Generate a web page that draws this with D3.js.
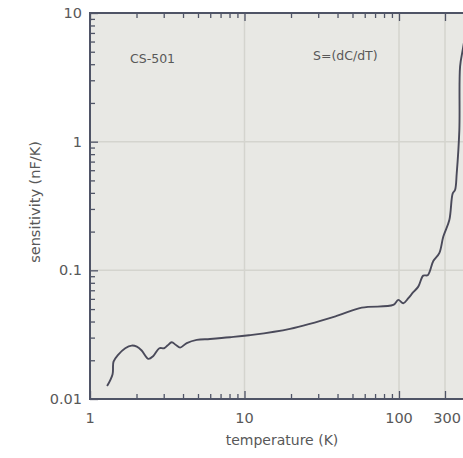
<!DOCTYPE html>
<html>
<head>
<meta charset="utf-8">
<script src="https://cdn.jsdelivr.net/npm/d3@7"></script>
<style>
    body { margin: 0; background: #fff; }
    text { font-family: "DejaVu Sans", sans-serif; fill: #585858; }
</style>
</head>
<body>
<svg width="463" height="458"></svg>
<script>
// curve: temperature (K) and sensitivity (nF/K)
var temperature = [1.29, 1.40, 1.42, 1.52, 1.69, 1.86, 2.01, 2.16, 2.39, 2.57, 2.81, 3.01, 3.17, 3.38,
    3.60, 3.83, 4.23, 4.91, 5.98, 8.06, 10.7, 19.7, 39.5, 57.4, 91.8, 98.9, 110.8, 124.9, 140.6,
    158.5, 178.5, 198.5, 226.9, 261.8, 288.2, 332.7, 360.9, 381.3, 397, 422.5, 430, 458, 496];
var sensitivity = [0.0126, 0.0156, 0.0195, 0.0220, 0.0248, 0.0260, 0.0255, 0.0238, 0.0205, 0.0216,
    0.0248, 0.0248, 0.0260, 0.0276, 0.0263, 0.0251, 0.0272, 0.0288, 0.0293, 0.0302, 0.0313, 0.0351,
    0.0442, 0.0513, 0.0538, 0.0589, 0.0555, 0.0607, 0.0676, 0.0747, 0.0910, 0.0916, 0.118, 0.136,
    0.183, 0.246, 0.397, 0.421, 0.568, 1.23, 3.83, 5.16, 7.4];

var tempTicks = [1, 10, 100, 300];
var tempTickLabels = ['1', '10', '100', '300'];
var sensTicks = [0.01, 0.1, 1, 10];
var sensTickLabels = ['0.01', '0.1', '1', '10'];

var svg = d3.select('svg');

var plot = { l: 90, t: 13, r: 475, b: 399 };

// the axis is squeezed between 100 and 300, so the log scale is piecewise
var x = d3.scaleLog()
    .domain([1, 10, 100, 300])
    .range([plot.l, 244.5, 399, 445]);
var y = d3.scaleLog()
    .domain([0.01, 10])
    .range([plot.b, plot.t]);

// minor tick positions (every integer step of each decade)
var xMinor = [];
[1, 10].forEach(function (d) {
    for (var k = 2; k <= 9; k++) xMinor.push(d * k);
});
var yMinor = [];
[0.01, 0.1, 1].forEach(function (d) {
    for (var k = 2; k <= 9; k++) yMinor.push(d * k);
});

svg.append('defs').append('clipPath').attr('id', 'clip')
    .append('rect')
    .attr('x', plot.l).attr('y', plot.t)
    .attr('width', plot.r - plot.l).attr('height', plot.b - plot.t);

// plot background
svg.append('rect')
    .attr('x', plot.l).attr('y', plot.t)
    .attr('width', plot.r - plot.l).attr('height', plot.b - plot.t)
    .attr('fill', '#e8e8e4');

// grid lines
svg.append('g').selectAll('line')
    .data([10, 100, 300])
    .enter().append('line')
    .attr('x1', d => x(d)).attr('x2', d => x(d))
    .attr('y1', plot.t).attr('y2', plot.b)
    .attr('stroke', '#d4d4ce').attr('stroke-width', 1.5);
svg.append('g').selectAll('line')
    .data([0.1, 1])
    .enter().append('line')
    .attr('x1', plot.l).attr('x2', plot.r)
    .attr('y1', d => y(d)).attr('y2', d => y(d))
    .attr('stroke', '#d4d4ce').attr('stroke-width', 1.5);

var axisColor = '#4f5466';

function styleAxis(g) {
    g.select('.domain').remove();
    g.selectAll('line').attr('stroke', axisColor).attr('stroke-width', 1.3);
    g.selectAll('text').remove();
}

// minor ticks, pointing inwards
svg.append('g').attr('transform', `translate(0,${plot.b})`)
    .call(d3.axisBottom(x).tickValues(xMinor).tickSize(-5)).call(styleAxis);
svg.append('g').attr('transform', `translate(0,${plot.t})`)
    .call(d3.axisTop(x).tickValues(xMinor).tickSize(-5)).call(styleAxis);
svg.append('g').attr('transform', `translate(${plot.l},0)`)
    .call(d3.axisLeft(y).tickValues(yMinor).tickSize(-5)).call(styleAxis);

// major ticks
svg.append('g').attr('transform', `translate(0,${plot.b})`)
    .call(d3.axisBottom(x).tickValues(tempTicks).tickSize(-8)).call(styleAxis);
svg.append('g').attr('transform', `translate(0,${plot.t})`)
    .call(d3.axisTop(x).tickValues(tempTicks).tickSize(-8)).call(styleAxis);
svg.append('g').attr('transform', `translate(${plot.l},0)`)
    .call(d3.axisLeft(y).tickValues(sensTicks).tickSize(-8)).call(styleAxis);

// frame lines
svg.append('path')
    .attr('d', `M${plot.r},${plot.t}H${plot.l}V${plot.b}H${plot.r}`)
    .attr('fill', 'none').attr('stroke', axisColor).attr('stroke-width', 2);

// tick labels (the last one nudged right but kept inside the page)
svg.append('g').selectAll('text')
    .data(tempTicks)
    .enter().append('text')
    .attr('x', d => d === 300 ? 461 : x(d))
    .attr('y', 423)
    .attr('text-anchor', d => d === 300 ? 'end' : 'middle')
    .style('font-size', '14.5px')
    .text((d, i) => tempTickLabels[i]);

svg.append('g').selectAll('text')
    .data(sensTicks)
    .enter().append('text')
    .attr('x', 82)
    .attr('y', d => y(d) + 5)
    .attr('text-anchor', 'end')
    .style('font-size', '14.5px')
    .text((d, i) => sensTickLabels[i]);

// axis titles
svg.append('text')
    .attr('x', 282).attr('y', 445)
    .attr('text-anchor', 'middle')
    .style('font-size', '14px')
    .text('temperature (K)');

svg.append('text')
    .attr('transform', 'translate(40,202) rotate(-90)')
    .attr('text-anchor', 'middle')
    .style('font-size', '14.5px')
    .text('sensitivity (nF/K)');

// annotations
svg.append('text')
    .attr('x', 130).attr('y', 63)
    .style('font-size', '12.5px')
    .text('CS-501');
svg.append('text')
    .attr('x', 313).attr('y', 60)
    .style('font-size', '12.5px')
    .text('S=(dC/dT)');

// the curve
var line = d3.line()
    .x((d, i) => x(temperature[i]))
    .y(d => y(d))
    .curve(d3.curveCatmullRom.alpha(0.5));

svg.append('path')
    .datum(sensitivity)
    .attr('clip-path', 'url(#clip)')
    .attr('d', line)
    .attr('fill', 'none')
    .attr('stroke', '#4a4a5a')
    .attr('stroke-width', 1.9);
</script>
</body>
</html>
